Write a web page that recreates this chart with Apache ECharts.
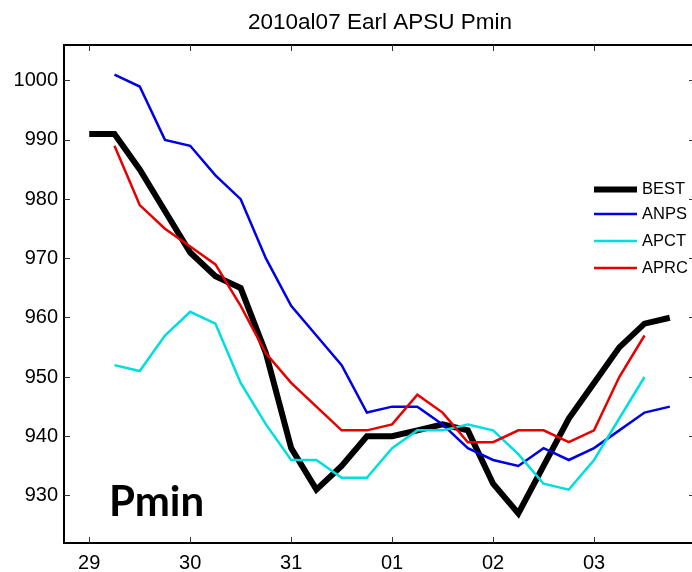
<!DOCTYPE html>
<html>
<head>
<meta charset="utf-8">
<title>2010al07 Earl APSU Pmin</title>
<script src="https://cdn.jsdelivr.net/npm/echarts@6/dist/echarts.min.js"></script>
<style>
  html, body { margin: 0; padding: 0; background: #ffffff; }
  #chart { width: 692px; height: 572px; }
</style>
</head>
<body>
<div id="chart"></div>
<script>
// Hours since 29 Aug 00Z, six-hourly
const hours = [0, 6, 12, 18, 24, 30, 36, 42, 48, 54, 60, 66, 72, 78, 84, 90, 96, 102, 108, 114, 120, 126, 132, 138];

// Minimum central pressure (hPa)
const best = [991, 991, 985, 978, 971, 967, 965, 954, 938, 931, 935, 940, 940, 941, 942, 941, 932, 927, 935, 943, 949, 955, 959, 960];
const anps = [null, 1001, 999, 990, 989, 984, 980, 970, 962, 957, 952, 944, 945, 945, 942, 938, 936, 935, 938, 936, 938, 941, 944, 945];
const apct = [null, 952, 951, 957, 961, 959, 949, 942, 936, 936, 933, 933, 938, 941, 941, 942, 941, 937, 932, 931, 936, 943, 950, null];
const aprc = [null, 989, 979, 975, 972, 969, 962, 954, 949, 945, 941, 941, 942, 947, 944, 939, 939, 941, 941, 939, 941, 950, 957, null];

// Day ticks (00Z) and their labels
const dayTicks = [0, 24, 48, 72, 96, 120];
const dayLabels = ['29', '30', '31', '01', '02', '03'];
const pTicks = [930, 940, 950, 960, 970, 980, 990, 1000];

const seriesNames = ['BEST', 'ANPS', 'APCT', 'APRC'];
const seriesColors = ['#000000', '#0000e6', '#00dede', '#e60000'];
const seriesWidths = [6, 2.5, 2.5, 2.5];
const seriesValues = [best, anps, apct, aprc];

const FONT = 'Liberation Sans, Arial, Helvetica, sans-serif';

function pairs(vals) {
  const out = [];
  vals.forEach((v, i) => { if (v !== null) out.push([hours[i], v]); });
  return out;
}

const chart = echarts.init(document.getElementById('chart'), null, { renderer: 'canvas' });

const axisLine = { show: true, onZero: false, lineStyle: { color: '#000', width: 2 } };
const tickStyle = { color: '#333', width: 1 };
const legendText = { fontFamily: FONT, fontSize: 16.5, lineHeight: 16, color: '#000' };

chart.setOption({
  animation: false,
  backgroundColor: '#ffffff',
  title: {
    text: '2010al07 Earl APSU Pmin',
    left: 375,
    textAlign: 'center',
    top: 6,
    textStyle: { fontFamily: FONT, fontSize: 22.5, fontWeight: 'normal', color: '#000' }
  },
  grid: { left: 64, right: -3, top: 45, bottom: 29, containLabel: false, outerBoundsMode: 'none' },
  legend: [
    {
      // thick best-track entry
      orient: 'vertical',
      left: 594,
      top: 181,
      padding: 0,
      itemWidth: 43,
      itemHeight: 6,
      icon: 'rect',
      textStyle: legendText,
      data: [seriesNames[0]]
    },
    {
      // thin model entries
      orient: 'vertical',
      left: 594,
      top: 205.5,
      padding: 0,
      itemWidth: 43,
      itemHeight: 2.5,
      itemGap: 10,
      icon: 'rect',
      textStyle: legendText,
      data: seriesNames.slice(1)
    }
  ],
  xAxis: [
    {
      type: 'value', min: -6, max: 144, position: 'bottom',
      axisLine: axisLine,
      splitLine: { show: false },
      axisTick: { show: true, inside: true, length: 6, lineStyle: tickStyle, customValues: dayTicks },
      axisLabel: {
        show: true, margin: 10, color: '#000', fontFamily: FONT, fontSize: 20,
        customValues: dayTicks,
        formatter: v => dayLabels[dayTicks.indexOf(v)]
      }
    },
    {
      type: 'value', min: -6, max: 144, position: 'top',
      axisLine: axisLine,
      splitLine: { show: false },
      axisTick: { show: true, inside: true, length: 6, lineStyle: tickStyle, customValues: dayTicks },
      axisLabel: { show: false }
    }
  ],
  yAxis: [
    {
      type: 'value', min: 922, max: 1006, position: 'left',
      axisLine: axisLine,
      splitLine: { show: false },
      axisTick: { show: true, inside: true, length: 6, lineStyle: tickStyle, customValues: pTicks },
      axisLabel: {
        show: true, margin: 6, color: '#000', fontFamily: FONT, fontSize: 20,
        customValues: pTicks,
        formatter: v => String(v)
      }
    },
    {
      type: 'value', min: 922, max: 1006, position: 'right',
      axisLine: axisLine,
      splitLine: { show: false },
      axisTick: { show: true, inside: true, length: 6, lineStyle: tickStyle, customValues: pTicks },
      axisLabel: { show: false }
    }
  ],
  series: seriesNames.map((name, i) => ({
    name: name,
    type: 'line',
    xAxisIndex: 0,
    yAxisIndex: 0,
    data: pairs(seriesValues[i]),
    symbol: 'none',
    showSymbol: false,
    clip: true,
    z: i === 0 ? 2 : 3,
    color: seriesColors[i],
    lineStyle: { color: seriesColors[i], width: seriesWidths[i], join: 'miter' }
  })),
  graphic: [
    {
      type: 'text',
      left: 109,
      top: 481,
      style: { text: 'Pmin', font: 'bold 42px Lato, "Open Sans", sans-serif', fill: '#000' }
    }
  ]
});
</script>
</body>
</html>
